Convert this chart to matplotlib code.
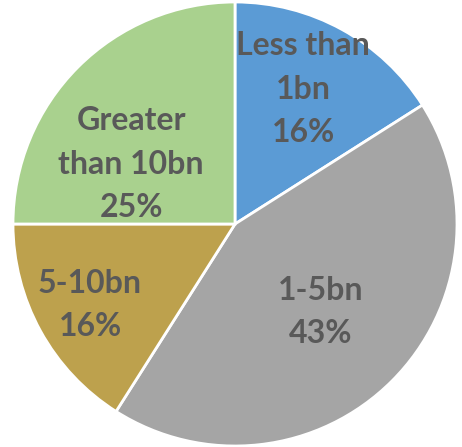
import matplotlib
matplotlib.use('Agg')
import matplotlib.pyplot as plt
import numpy as np

labels = ['Less than\n1bn', '1-5bn', '5-10bn', 'Greater\nthan 10bn']
shares = [16, 43, 16, 25]
colors = ['#5B9BD5', '#A5A5A5', '#BDA14D', '#A9D18E']

# label placement: fraction of radius, angle nudge (deg) from wedge middle
label_r = [0.68, 0.554, 0.748, 0.54]
label_nudge = [1.9, -0.7, 0.4, 15]

fig = plt.figure(figsize=(4.62, 4.47), dpi=100)
ax = fig.add_axes([0, 0, 1, 1])

wedges, _ = ax.pie(shares, colors=colors, startangle=90, counterclock=False,
                   radius=1, wedgeprops=dict(edgecolor='white', linewidth=2))

for w, lab, s, r, d in zip(wedges, labels, shares, label_r, label_nudge):
    mid = np.deg2rad((w.theta1 + w.theta2) / 2 + d)
    ax.text(r * np.cos(mid), r * np.sin(mid), f'{lab}\n{s}%',
            ha='center', va='center', fontsize=23, fontweight='bold',
            family='Lato', color='#595959', linespacing=1.6)

ax.set_aspect('auto')
ax.set_xlim(-235 / 222, 227 / 222)
ax.set_ylim(-223 / 222, 224 / 222)
ax.axis('off')

fig.savefig('out.png', dpi=100)
